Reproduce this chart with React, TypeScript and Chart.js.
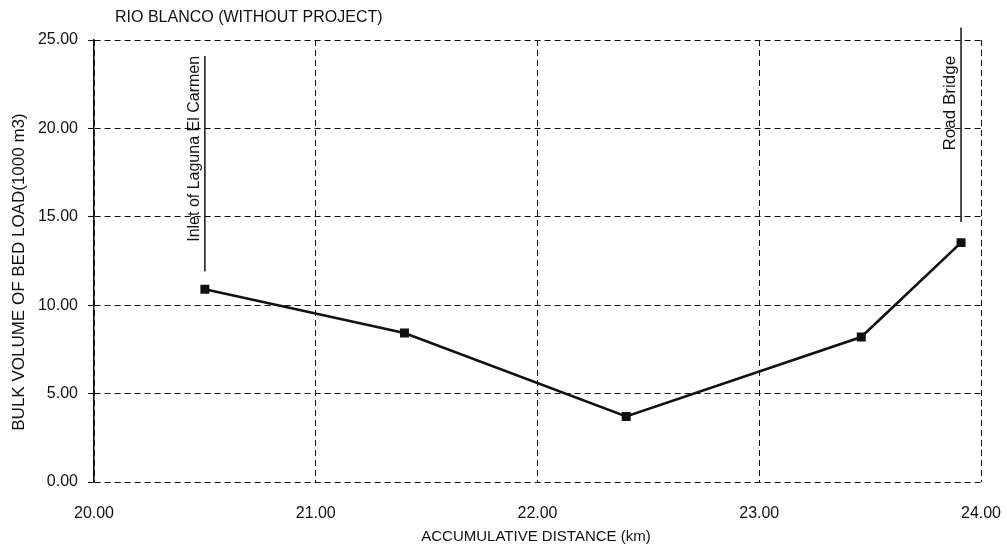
import { useEffect, useRef } from "react";
import { Chart, registerables } from "chart.js";

Chart.register(...registerables);

// ---- data ----
const distances = [20.5, 21.4, 22.4, 23.46, 23.91];
const bedLoad = [10.9, 8.43, 3.71, 8.2, 13.54];
const xTicks = [20, 21, 22, 23, 24];
const yTicks = [0, 5, 10, 15, 20, 25];
const landmarkNames = ["Inlet of Laguna El Carmen", "Road Bridge"];
const landmarkDistances = [20.5, 23.91];

const chartTitle = "RIO BLANCO (WITHOUT PROJECT)";
const xTitle = "ACCUMULATIVE DISTANCE (km)";
const yTitle = "BULK VOLUME OF BED LOAD(1000 m3)";

const FONT = '"Liberation Sans", Arial, Helvetica, sans-serif';
const INK = "#111";

// leader line / label placement (in data units of the y scale)
const landmarkStyle = [
  { lineTop: 24.1, lineBottom: 11.9, textTop: 24.1, size: 16 },
  { lineTop: 25.7, lineBottom: 14.7, textTop: 24.1, size: 17 },
];

const decorPlugin = {
  id: "decor",
  afterDraw(chart: any) {
    const { ctx } = chart;
    const xs = chart.scales.x;
    const ys = chart.scales.y;
    ctx.save();
    ctx.fillStyle = INK;
    ctx.strokeStyle = INK;

    // chart title
    ctx.font = `16px ${FONT}`;
    ctx.textAlign = "left";
    ctx.textBaseline = "middle";
    ctx.fillText(chartTitle, 115, 18);

    // x axis title
    ctx.font = `15px ${FONT}`;
    ctx.textAlign = "center";
    ctx.fillText(xTitle, 536, 537);

    // y axis title
    ctx.save();
    ctx.translate(19, 272);
    ctx.rotate(-Math.PI / 2);
    ctx.font = `17px ${FONT}`;
    ctx.textAlign = "center";
    ctx.textBaseline = "middle";
    ctx.fillText(yTitle, 0, 0);
    ctx.restore();

    // landmark leader lines and labels
    landmarkNames.forEach((name, i) => {
      const st = landmarkStyle[i];
      const px = xs.getPixelForValue(landmarkDistances[i]);
      ctx.beginPath();
      ctx.lineWidth = 1.5;
      ctx.setLineDash([]);
      ctx.moveTo(px, ys.getPixelForValue(st.lineTop));
      ctx.lineTo(px, ys.getPixelForValue(st.lineBottom));
      ctx.stroke();
      ctx.save();
      ctx.translate(px - 2, ys.getPixelForValue(st.textTop));
      ctx.rotate(-Math.PI / 2);
      ctx.font = `${st.size}px ${FONT}`;
      ctx.textAlign = "right";
      ctx.textBaseline = "bottom";
      ctx.fillText(name, 0, 0);
      ctx.restore();
    });
    ctx.restore();
  },
};

export default function App() {
  const ref = useRef<HTMLCanvasElement | null>(null);

  useEffect(() => {
    if (!ref.current) return;
    const chart = new Chart(ref.current, {
      type: "line",
      data: {
        datasets: [
          {
            data: distances.map((x, i) => ({ x, y: bedLoad[i] })),
            borderColor: INK,
            borderWidth: 2.6,
            backgroundColor: INK,
            pointStyle: "rect",
            pointRadius: 4.5,
            pointBackgroundColor: INK,
            pointBorderColor: INK,
            tension: 0,
            fill: false,
          },
        ],
      },
      options: {
        animation: false,
        responsive: false,
        devicePixelRatio: 1,
        layout: { padding: { top: 40, right: 26, left: 0, bottom: 0 } },
        plugins: {
          legend: { display: false },
          title: { display: false },
          tooltip: { enabled: false },
        },
        scales: {
          x: {
            type: "linear",
            min: 20,
            max: 24,
            afterBuildTicks: (scale: any) => {
              scale.ticks = xTicks.map((v) => ({ value: v }));
            },
            afterFit: (scale: any) => {
              scale.height = 74;
              scale.paddingLeft = 0;
              scale.paddingRight = 0;
            },
            ticks: {
              callback: (v: any) => Number(v).toFixed(2),
              font: { family: FONT, size: 16 },
              color: INK,
              padding: 22,
              maxRotation: 0,
            },
            grid: {
              color: INK,
              lineWidth: 1,
              drawTicks: false,
            },
            border: { display: false, dash: [6, 4] },
          },
          y: {
            type: "linear",
            min: 0,
            max: 25,
            afterBuildTicks: (scale: any) => {
              scale.ticks = yTicks.map((v) => ({ value: v }));
            },
            afterFit: (scale: any) => {
              scale.width = 94;
              scale.paddingTop = 0;
              scale.paddingBottom = 0;
            },
            ticks: {
              callback: (v: any) => Number(v).toFixed(2),
              font: { family: FONT, size: 16 },
              color: INK,
              padding: 10,
            },
            grid: {
              color: INK,
              lineWidth: 1,
              drawTicks: true,
              tickLength: 6,
              tickBorderDash: [],
            },
            border: { display: true, color: INK, width: 1.6, dash: [6, 4] },
          },
        },
      },
      plugins: [decorPlugin],
    });
    return () => chart.destroy();
  }, []);

  return (
    <div style={{ position: "absolute", left: 0, top: 0, width: 1007, height: 556, background: "#fff" }}>
      <canvas ref={ref} width={1007} height={556} style={{ display: "block" }} />
    </div>
  );
}
